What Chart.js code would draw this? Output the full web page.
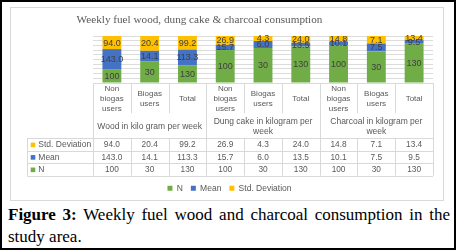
<!DOCTYPE html>
<html>
<head>
<meta charset="utf-8">
<script src="https://cdn.jsdelivr.net/npm/chart.js@4/dist/chart.umd.min.js"></script>
<style>
  html, body { margin: 0; padding: 0; background: #fff; }
  #frame { position: relative; width: 456px; height: 250px; box-sizing: border-box; border: 2px solid #000; background: #fff; overflow: hidden; }
  #box { position: absolute; left: 8px; top: 5px; width: 434px; height: 194px; box-sizing: border-box; border: 1px solid #d9d9d9; }
  #box canvas { display: block; }
  #cap { position: absolute; left: 6px; top: 202px; width: 442px; margin: 0; font: 17px/22px "Liberation Serif", serif; text-align: justify; color: #000; }
</style>
</head>
<body>
<div id="frame">
  <div id="box"><canvas id="c"></canvas></div>
  <p id="cap"><b>Figure 3:</b> Weekly fuel wood and charcoal consumption in the study area.</p>
</div>
<script>
// ---- data ----
const categories = [["Non","biogas","users"],["Biogas","users"],["Total"],
                    ["Non","biogas","users"],["Biogas","users"],["Total"],
                    ["Non","biogas","users"],["Biogas","users"],["Total"]];
const groups = [["Wood in kilo gram per week"],
                ["Dung cake in kilogram per","week"],
                ["Charcoal in kilogram per","week"]];
const seriesNames = ["N","Mean","Std. Deviation"];
const nValues    = [100, 30, 130, 100, 30, 130, 100, 30, 130];
const meanValues = [143.0, 14.1, 113.3, 15.7, 6.0, 13.5, 10.1, 7.5, 9.5];
const sdValues   = [94.0, 20.4, 99.2, 26.9, 4.3, 24.0, 14.8, 7.1, 13.4];
const decimals   = [0, 1, 1];
const chartTitle = "Weekly fuel wood, dung cake & charcoal consumption";

// ---- derived (100% stacked) ----
const rawSeries = [nValues, meanValues, sdValues];
const totals = nValues.map((v, i) => v + meanValues[i] + sdValues[i]);
const toPct = arr => arr.map((v, i) => v / totals[i] * 100);
const fmt = (v, d) => v.toFixed(d);

const seriesColors = ["#70AD47", "#4472C4", "#FFC000"];
const FONT = '"Liberation Sans", Arial, sans-serif';
const TXT = '#595959';
const LINE = '#d9d9d9';

const tablePlugin = {
  id: 'dataTable',
  afterDatasetsDraw(chart) {
    const ctx = chart.ctx;
    ctx.save();
    ctx.font = '9px ' + FONT;
    ctx.fillStyle = '#404040';
    ctx.textAlign = 'center';
    ctx.textBaseline = 'middle';
    chart.data.datasets.forEach((ds, k) => {
      const meta = chart.getDatasetMeta(k);
      meta.data.forEach((bar, i) => {
        const p = bar.getProps(['x', 'y', 'base'], true);
        ctx.fillText(fmt(rawSeries[k][i], decimals[k]), p.x, (p.y + p.base) / 2 + 0.5);
      });
    });
    ctx.restore();
  },
  afterDraw(chart) {
    const ctx = chart.ctx;
    const xs = chart.scales.x;
    const area = chart.chartArea;
    const n = categories.length;
    const colW = xs.getPixelForValue(1) - xs.getPixelForValue(0);
    const edge = i => xs.getPixelForValue(Math.min(i, n - 1)) + (i < n ? -colW / 2 : colW / 2);
    const top = area.bottom;
    const catBottom = top + 30.3;
    const tableTop = top + 55.3;
    const rowH = 12.45;
    const tableBottom = tableTop + 3 * rowH;
    const tableLeft = 16.3;

    ctx.save();
    // title
    ctx.font = '11.2px "Liberation Serif", serif';
    ctx.fillStyle = TXT;
    ctx.textAlign = 'center';
    ctx.textBaseline = 'middle';
    ctx.fillText(chartTitle, 188.5, 12);

    // lines
    ctx.strokeStyle = LINE;
    ctx.lineWidth = 1;
    const hline = (x1, x2, y) => { const yy = Math.round(y) + 0.5; ctx.beginPath(); ctx.moveTo(x1, yy); ctx.lineTo(x2, yy); ctx.stroke(); };
    const vline = (x, y1, y2) => { const xx = Math.round(x) + 0.5; ctx.beginPath(); ctx.moveTo(xx, y1); ctx.lineTo(xx, y2); ctx.stroke(); };
    hline(edge(0), edge(n), top);
    for (let r = 0; r <= 3; r++) hline(tableLeft, edge(n), tableTop + r * rowH);
    for (let i = 0; i <= n; i++) {
      if (i % 3 === 0) vline(edge(i), top, tableBottom);
      else { vline(edge(i), top, catBottom); vline(edge(i), tableTop, tableBottom); }
    }
    vline(tableLeft, tableTop, tableBottom);

    // category labels
    ctx.fillStyle = TXT;
    ctx.font = '8px ' + FONT;
    const catMid = top + 16, lh = 9.8;
    categories.forEach((lines, i) => {
      const cx = xs.getPixelForValue(i);
      lines.forEach((t, j) => ctx.fillText(t, cx, catMid + (j - (lines.length - 1) / 2) * lh));
    });
    // group labels
    ctx.font = '8.5px ' + FONT;
    const grpMid = top + 43.5;
    groups.forEach((lines, g) => {
      const cx = (edge(g * 3) + edge(g * 3 + 3)) / 2;
      lines.forEach((t, j) => ctx.fillText(t, cx, grpMid + (j - (lines.length - 1) / 2) * lh));
    });
    // rows (reverse of stack order)
    const order = [2, 1, 0];
    order.forEach((k, r) => {
      const cy = tableTop + (r + 0.5) * rowH + 0.5;
      ctx.fillStyle = seriesColors[k];
      ctx.fillRect(19.7, cy - 2.4, 4.6, 4.6);
      ctx.fillStyle = TXT;
      ctx.textAlign = 'left';
      ctx.font = '8.5px ' + FONT;
      ctx.fillText(seriesNames[k], 27.3, cy);
      ctx.textAlign = 'center';
      ctx.font = '8.3px ' + FONT;
      rawSeries[k].forEach((v, i) => ctx.fillText(fmt(v, decimals[k]), xs.getPixelForValue(i), cy));
    });
    ctx.restore();
  }
};

new Chart(document.getElementById('c'), {
  type: 'bar',
  data: {
    labels: categories.map(c => c.join(' ')),
    datasets: seriesNames.map((name, k) => ({
      label: name,
      data: toPct(rawSeries[k]),
      backgroundColor: seriesColors[k],
      borderWidth: 0,
      barPercentage: 0.5,
      categoryPercentage: 1.0,
      stack: 's'
    }))
  },
  options: {
    responsive: true,
    maintainAspectRatio: false,
    animation: false,
    layout: { padding: { left: 5, right: 0, top: 28, bottom: 0 } },
    scales: {
      x: {
        stacked: true,
        grid: { display: false },
        border: { display: false },
        ticks: { display: false },
        afterFit: s => { s.height = 93; }
      },
      y: {
        stacked: true,
        min: 0, max: 100,
        ticks: { display: false, stepSize: 10 },
        grid: { color: '#dcdcdc', lineWidth: 1, drawTicks: false },
        border: { display: false },
        afterFit: s => { s.width = 77; }
      },
      yR: {
        position: 'right',
        display: true,
        ticks: { display: false },
        grid: { display: false, drawTicks: false },
        border: { display: false },
        afterFit: s => { s.width = 10; }
      }
    },
    plugins: {
      title: { display: false },
      tooltip: { enabled: false },
      legend: {
        display: true,
        position: 'bottom',
        maxHeight: 24,
        labels: {
          boxWidth: 5, boxHeight: 5, padding: 8,
          color: TXT,
          font: { family: FONT, size: 8.5 }
        }
      }
    }
  },
  plugins: [tablePlugin]
});
</script>
</body>
</html>
